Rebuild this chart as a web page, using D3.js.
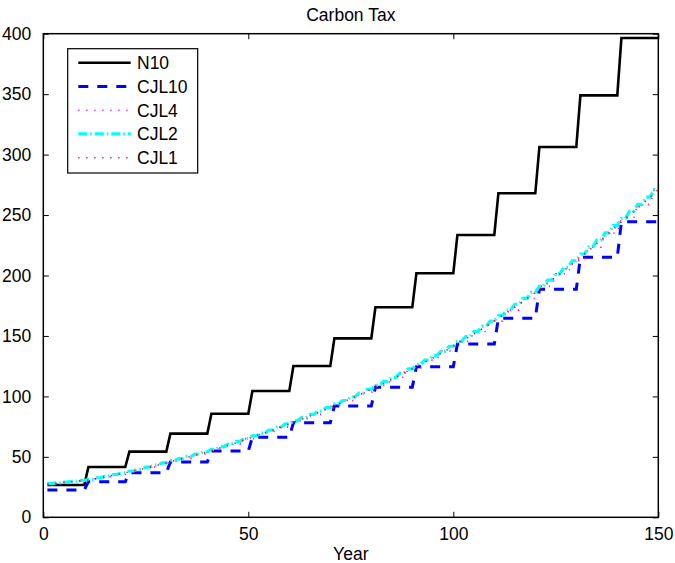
<!DOCTYPE html>
<html>
<head>
<meta charset="utf-8">
<script src="https://cdn.jsdelivr.net/npm/d3@7"></script>
<style>
  html, body { margin: 0; padding: 0; background: #fff; }
  svg { display: block; font-family: "Liberation Sans", Arial, Helvetica, sans-serif; }
</style>
</head>
<body>
<svg id="chart" width="675" height="563"></svg>
<script>
// ---- Data ----
const title = "Carbon Tax";
const xLabel = "Year";
const xTicks = [0, 50, 100, 150];
const yTicks = [0, 50, 100, 150, 200, 250, 300, 350, 400];
const seriesNames = ["N10", "CJL10", "CJL4", "CJL2", "CJL1"];

// Step levels: N10 and CJL10 change every 10 years (years 1-10, 11-20, ...)
const n10Levels = [26.7, 41.6, 54.3, 69.2, 85.7, 104.5, 125.1, 148.0, 173.7, 201.8, 233.5, 268.0, 306.3, 349.0, 396.4];
const cjl10Levels = [22.6, 29.5, 36.9, 45.7, 54.8, 66.2, 78.3, 92.0, 107.5, 124.6, 143.3, 164.6, 188.6, 215.0, 244.5];
// CJL4 changes every 4 years
const cjl4Levels = [27.8, 29.1, 30.5, 32.7, 35.4, 38.3, 41.5, 45.0, 48.6, 52.3, 56.2, 60.5, 65.1, 69.7, 74.6,
  79.8, 85.1, 90.8, 96.6, 102.7, 109.1, 115.8, 122.8, 130.0, 137.5, 145.5, 153.7, 162.3, 171.4, 181.0,
  191.1, 201.4, 212.2, 223.4, 235.2, 247.3, 258.8, 271.0];
// CJL2 changes every 2 years
const cjl2Levels = [27.8, 28.5, 29.1, 29.8, 30.5, 31.4, 32.7, 34.0, 35.4, 36.8, 38.3, 39.9, 41.5, 43.2, 45.0,
  46.8, 48.6, 50.4, 52.3, 54.2, 56.2, 58.3, 60.5, 62.8, 65.1, 67.4, 69.7, 72.1, 74.6, 77.2,
  79.8, 82.4, 85.1, 87.9, 90.8, 93.7, 96.6, 99.6, 102.7, 105.9, 109.1, 112.4, 115.8, 119.3, 122.8,
  126.4, 130.0, 133.7, 137.5, 141.5, 145.5, 149.5, 153.7, 157.9, 162.3, 166.9, 171.4, 176.2, 181.0, 186.0,
  191.1, 196.2, 201.4, 206.8, 212.2, 217.8, 223.4, 229.2, 235.2, 241.3, 247.3, 253.0, 258.8, 264.8, 271.0];
// CJL1 changes every year
const cjl1Levels = [27.5, 27.8, 28.1, 28.5, 28.8, 29.1, 29.4, 29.8, 30.1, 30.5,
  30.8, 31.4, 32.0, 32.7, 33.3, 34.0, 34.7, 35.4, 36.1, 36.8,
  37.5, 38.3, 39.1, 39.9, 40.7, 41.5, 42.4, 43.2, 44.1, 45.0,
  46.0, 46.8, 47.7, 48.6, 49.5, 50.4, 51.3, 52.3, 53.2, 54.2,
  55.2, 56.2, 57.3, 58.3, 59.4, 60.5, 61.6, 62.8, 63.9, 65.1,
  66.3, 67.4, 68.6, 69.7, 70.9, 72.1, 73.3, 74.6, 75.9, 77.2,
  78.5, 79.8, 81.1, 82.4, 83.7, 85.1, 86.5, 87.9, 89.3, 90.8,
  92.3, 93.7, 95.2, 96.6, 98.1, 99.6, 101.2, 102.7, 104.3, 105.9,
  107.5, 109.1, 110.7, 112.4, 114.1, 115.8, 117.5, 119.3, 121.0, 122.8,
  124.6, 126.4, 128.2, 130.0, 131.8, 133.7, 135.6, 137.5, 139.5, 141.5,
  143.5, 145.5, 147.5, 149.5, 151.6, 153.7, 155.8, 157.9, 160.1, 162.3,
  164.6, 166.9, 169.1, 171.4, 173.8, 176.2, 178.6, 181.0, 183.5, 186.0,
  188.6, 191.1, 193.6, 196.2, 198.8, 201.4, 204.1, 206.8, 209.5, 212.2,
  215.0, 217.8, 220.6, 223.4, 226.3, 229.2, 232.2, 235.2, 238.2, 241.3,
  244.5, 247.3, 250.1, 253.0, 255.9, 258.8, 261.8, 264.8, 267.9, 271.0];
const periodLengths = [10, 10, 4, 2, 1];
const firstYear = 1, lastYear = 150;

// ---- Layout / styles ----
const W = 675, H = 563;
const mLeft = 43.3, mRight = 658.3, mTop = 33.7, mBottom = 517.3;
const styles = [
  { color: "#000000", width: 2.6, dash: null },
  { color: "#0000ff", width: 3.0, dash: "10,9" },
  { color: "#ff00ff", width: 1.6, dash: "1.2,6.8" },
  { color: "#00ffff", width: 3.2, dash: "9,3,1.5,3" },
  { color: "#ff0000", width: 1.6, dash: "1.2,6.8" }
];
const fontSize = 17.5;

const levelsList = [n10Levels, cjl10Levels, cjl4Levels, cjl2Levels, cjl1Levels];
const years = d3.range(firstYear, lastYear + 1);
const series = seriesNames.map((name, i) => ({
  name,
  points: years.map(t => ({ x: t, y: levelsList[i][Math.floor((t - firstYear) / periodLengths[i])] }))
}));

const svg = d3.select("#chart");
const x = d3.scaleLinear().domain([0, 150]).range([mLeft, mRight]);
const y = d3.scaleLinear().domain([0, 400]).range([mBottom, mTop]);

svg.append("rect").attr("width", W).attr("height", H).attr("fill", "#fff");

svg.append("defs").append("clipPath").attr("id", "clip")
  .append("rect").attr("x", mLeft).attr("y", mTop).attr("width", mRight - mLeft).attr("height", mBottom - mTop);

const line = d3.line().x(d => x(d.x)).y(d => y(d.y));
const plot = svg.append("g").attr("clip-path", "url(#clip)");
series.forEach((s, i) => {
  plot.append("path")
    .datum(s.points)
    .attr("d", line)
    .attr("fill", "none")
    .attr("stroke", styles[i].color)
    .attr("stroke-width", styles[i].width)
    .attr("stroke-dasharray", styles[i].dash)
    .attr("stroke-linejoin", "miter");
});

// Axes (MATLAB style: box with inward ticks on all sides)
const tickLen = 5.5;
const axisStyle = g => {
  g.select(".domain").remove();
  g.selectAll(".tick line").attr("stroke", "#000").attr("stroke-width", 1);
  g.selectAll(".tick text").attr("font-size", fontSize).attr("fill", "#000")
    .attr("font-family", "'Liberation Sans', Arial, Helvetica, sans-serif");
};
svg.append("g").attr("transform", `translate(0,${mBottom})`)
  .call(d3.axisBottom(x).tickValues(xTicks).tickFormat(d3.format("d")).tickSizeInner(-tickLen).tickSizeOuter(0).tickPadding(10))
  .call(axisStyle);
svg.append("g").attr("transform", `translate(0,${mTop})`)
  .call(d3.axisTop(x).tickValues(xTicks).tickFormat("").tickSizeInner(-tickLen).tickSizeOuter(0))
  .call(axisStyle);
svg.append("g").attr("transform", `translate(${mLeft},0)`)
  .call(d3.axisLeft(y).tickValues(yTicks).tickFormat(d3.format("d")).tickSizeInner(-tickLen).tickSizeOuter(0).tickPadding(12))
  .call(axisStyle);
svg.append("g").attr("transform", `translate(${mRight},0)`)
  .call(d3.axisRight(y).tickValues(yTicks).tickFormat("").tickSizeInner(-tickLen).tickSizeOuter(0))
  .call(axisStyle);

svg.append("rect").attr("x", mLeft).attr("y", mTop).attr("width", mRight - mLeft).attr("height", mBottom - mTop)
  .attr("fill", "none").attr("stroke", "#000").attr("stroke-width", 1.5);

// Title and label
svg.append("text").attr("x", (mLeft + mRight) / 2).attr("y", 20.7).attr("text-anchor", "middle")
  .attr("font-size", fontSize).attr("fill", "#000").text(title);
svg.append("text").attr("x", (mLeft + mRight) / 2).attr("y", 560).attr("text-anchor", "middle")
  .attr("font-size", fontSize).attr("fill", "#000").text(xLabel);

// Legend
const lg = svg.append("g");
const lgX = 67.7, lgY = 48.7, lgW = 130, lgH = 124.3;
lg.append("rect").attr("x", lgX).attr("y", lgY).attr("width", lgW).attr("height", lgH)
  .attr("fill", "#fff").attr("stroke", "#000").attr("stroke-width", 1.2);
const rowY = d3.scaleLinear().domain([0, 4]).range([62.7, 157.7]);
seriesNames.forEach((name, i) => {
  lg.append("line").attr("x1", 78.3).attr("x2", 130.7).attr("y1", rowY(i)).attr("y2", rowY(i))
    .attr("stroke", styles[i].color).attr("stroke-width", styles[i].width).attr("stroke-dasharray", styles[i].dash);
  lg.append("text").attr("x", 137).attr("y", rowY(i)).attr("dy", "0.36em")
    .attr("font-size", fontSize).attr("fill", "#000").text(name);
});
</script>
</body>
</html>
